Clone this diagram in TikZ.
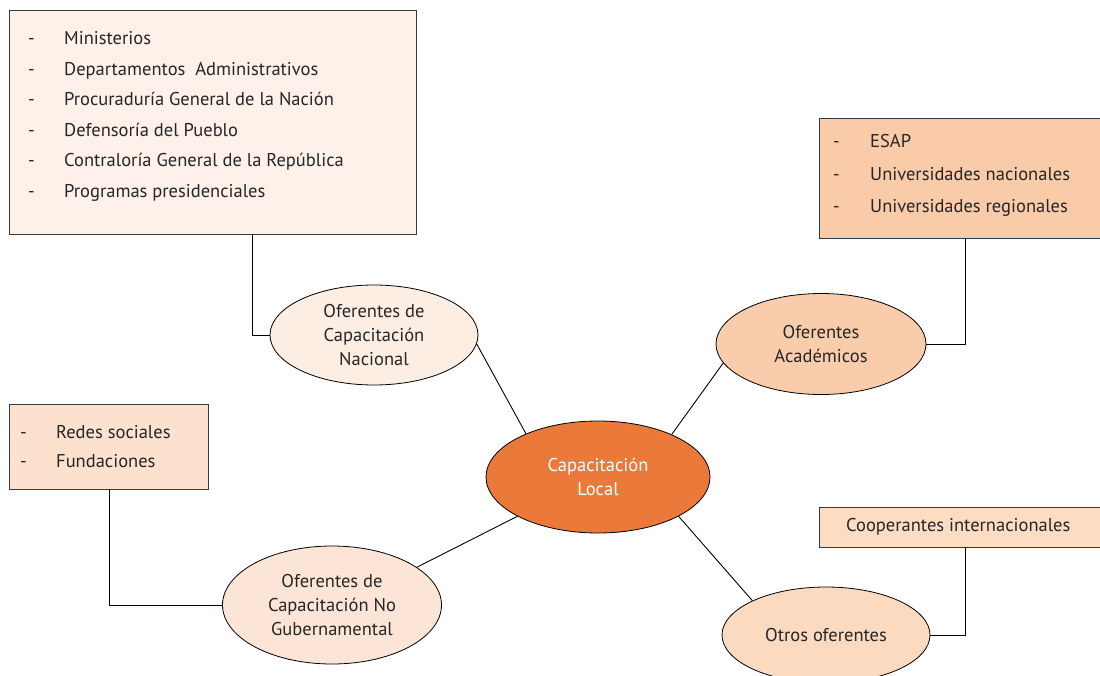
\documentclass[tikz,border=0pt]{standalone}
\usepackage{fontspec}
\setmainfont{PT Sans}
\usetikzlibrary{shapes.geometric}
\definecolor{cBoxA}{HTML}{FDF1EA}
\definecolor{cEllA}{HTML}{FDEEE3}
\definecolor{cBoxB}{HTML}{F9CBA9}
\definecolor{cEllB}{HTML}{F9CDAB}
\definecolor{cCenter}{HTML}{EB7A3A}
\definecolor{cBoxC}{HTML}{FCE2CE}
\definecolor{cEllC}{HTML}{FCE5D6}
\definecolor{cBoxD}{HTML}{FCDCC3}
\definecolor{cEllD}{HTML}{FBDAC0}
\definecolor{cLine}{HTML}{3A3A3A}
\tikzset{
  x=1pt, y=-1pt,
  boxshape/.style={draw=cLine, line width=0.9pt, inner sep=0pt},
  ell/.style={ellipse, draw=black, line width=0.8pt, inner sep=0pt, align=center,
     font=\fontsize{18.5}{24}\selectfont, text=black!85},
  itemtxt/.style={anchor=west, inner sep=0pt, text height=13pt, text depth=4pt,
     font=\fontsize{18.5}{22}\selectfont, text=black!85},
  conn/.style={draw=black, line width=0.9pt},
}
\begin{document}
\begin{tikzpicture}
\useasboundingbox (0,0) rectangle (1100,675);
\clip (0,0) rectangle (1100,675);
\fill[white] (0,0) rectangle (1100,675);

% Box 1
\draw[boxshape, fill=cBoxA] (9,10) rectangle (416,234);
\coordinate (b1) at (252,234);
\foreach \y/\t [count=\i] in {40/Ministerios, 71/Departamentos\ \ Administrativos, 101/Procuraduría General de la Nación, 132/Defensoría del Pueblo, 162/Contraloría General de la República, 193/Programas presidenciales}{
  \node[itemtxt] (d1\i) at (28,\y) {-};
  \node[itemtxt] (t1\i) at (64,\y) {\t};
}

% Box 2
\draw[boxshape, fill=cBoxB] (819,118) rectangle (1103,238);
\coordinate (b2) at (965,238);
\foreach \y/\t [count=\i] in {143/ESAP, 176/Universidades nacionales, 208/Universidades regionales}{
  \node[itemtxt] (d2\i) at (833,\y) {-};
  \node[itemtxt] (t2\i) at (870,\y) {\t};
}

% Box 3
\draw[boxshape, fill=cBoxC] (9,404) rectangle (208,489);
\coordinate (b3) at (109,489);
\foreach \y/\t [count=\i] in {434/Redes sociales, 463/Fundaciones}{
  \node[itemtxt] (d3\i) at (20,\y) {-};
  \node[itemtxt] (t3\i) at (56,\y) {\t};
}

% Box 4
\draw[boxshape, fill=cBoxD] (819,507) rectangle (1103,547);
\coordinate (b4) at (965,547);
\node[itemtxt] (t41) at (846,527) {Cooperantes internacionales};

% Ellipses
\node[ell, fill=cEllA, minimum width=208pt, minimum height=100pt] (nac) at (374,335) {Oferentes de\\Capacitación\\Nacional};
\node[ell, fill=cEllB, minimum width=210pt, minimum height=101pt] (aca) at (821,344) {Oferentes\\Académicos};
\node[ell, fill=cCenter, minimum width=224pt, minimum height=112pt, text=white] (cen) at (598,477) {Capacitación\\Local};
\node[ell, fill=cEllC, minimum width=219pt, minimum height=118pt] (nog) at (332,605) {Oferentes de\\Capacitación No\\Gubernamental};
\node[ell, fill=cEllD, minimum width=208pt, minimum height=96pt] (otr) at (826,635) {Otros oferentes};

% Spokes
\draw[conn] (cen.149) -- (nac.355);
\draw[conn] (cen.30) -- (aca.191);
\draw[conn] (cen.206) -- (nog.24);
\draw[conn] (cen.334) -- (otr.155);

% Elbow connectors
\draw[conn] (b1) |- (nac.west);
\draw[conn] (b2) |- (aca.east);
\draw[conn] (b3) |- (nog.west);
\draw[conn] (b4) |- (otr.east);
\end{tikzpicture}
\end{document}
